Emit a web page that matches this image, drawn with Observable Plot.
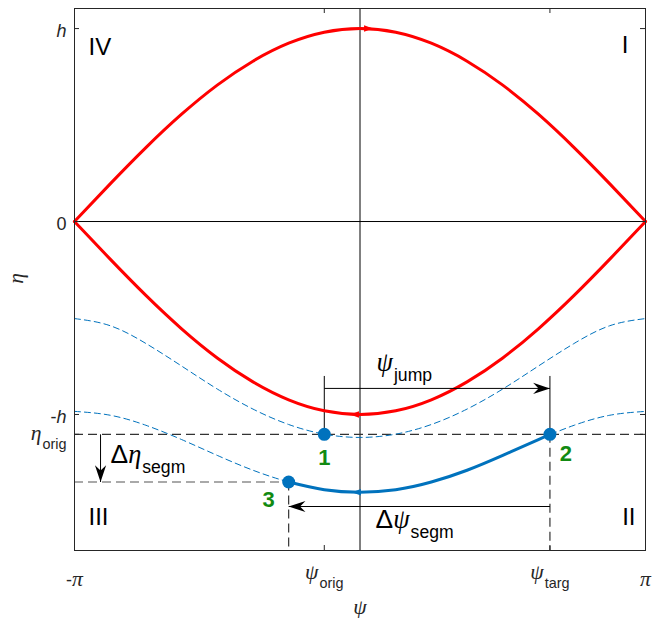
<!DOCTYPE html>
<html>
<head>
<meta charset="utf-8">
<script src="https://cdn.jsdelivr.net/npm/d3@7"></script>
<script src="https://cdn.jsdelivr.net/npm/@observablehq/plot@0.6"></script>
<style>
  html, body { margin: 0; padding: 0; background: #fff; }
  #chart svg { display: block; }
</style>
</head>
<body>
<div id="chart"></div>
<script>
// ---------- data (h = 1) ----------
const psiGrid   = [-3.142, -2.749, -2.356, -1.963, -1.571, -1.178, -0.785, -0.393, 0, 0.393, 0.785, 1.178, 1.571, 1.963, 2.356, 2.749, 3.142];
const redUpper  = [0, 0.195, 0.383, 0.556, 0.707, 0.831, 0.924, 0.981, 1, 0.981, 0.924, 0.831, 0.707, 0.556, 0.383, 0.195, 0];
const redLower  = [0, -0.195, -0.383, -0.556, -0.707, -0.831, -0.924, -0.981, -1, -0.981, -0.924, -0.831, -0.707, -0.556, -0.383, -0.195, 0];
const dashUpper = [-0.503, -0.540, -0.632, -0.749, -0.868, -0.972, -1.052, -1.102, -1.119, -1.102, -1.052, -0.972, -0.868, -0.749, -0.632, -0.540, -0.503];
const dashLower = [-0.984, -1.004, -1.056, -1.130, -1.212, -1.289, -1.350, -1.390, -1.403, -1.390, -1.350, -1.289, -1.212, -1.130, -1.056, -1.004, -0.984];
const segPsi    = [-0.785, -0.393, 0, 0.393, 0.785, 1.178, 1.571, 1.963, 2.09];
const segEta    = [-1.350, -1.390, -1.403, -1.390, -1.350, -1.289, -1.212, -1.130, -1.103];

const psiOrig = -0.393, psiTarg = 2.09, psi3 = -0.785;
const etaOrig = -1.103, eta3 = -1.350;
const etaJump = -0.865, etaJumpTop = -0.803, etaSegm = -1.477, psiDeltaEta = -2.855;

const pointPsi = [psiOrig, psiTarg, psi3];
const pointEta = [etaOrig, etaOrig, eta3];
const pointLabels = ["1", "2", "3"];

const yTickValues = [1, 0, -1, etaOrig];
const yTickLabels = ["*h*", "0", "-*h*", "η_{orig}"];
const xTickValues = [-Math.PI, psiOrig, psiTarg, Math.PI];
const xTickLabels = ["-π", "ψ_{orig}", "ψ_{targ}", "π"];

const quadrants = ["IV", "I", "III", "II"];

const annPsi = [0.182, 0.171, -2.745];
const annEta = [-0.737, -1.551, -1.214];
const annText = ["ψ_{jump}", "Δψ_{segm}", "Δη_{segm}"];

const curveArrowPsi = [0.094, -0.06, -0.04];
const curveArrowEta = [1.0, -1.0, -1.403];
const curveArrowRot = [0, 180, 180];

const yMin = -1.705, yMax = 1.104;

// ---------- tables ----------
const red = psiGrid.flatMap((p, i) => [
  {psi: p, eta: redUpper[i], s: "upper"},
  {psi: p, eta: redLower[i], s: "lower"}
]);
const dashed = psiGrid.flatMap((p, i) => [
  {psi: p, eta: dashUpper[i], s: "upper"},
  {psi: p, eta: dashLower[i], s: "lower"}
]);
const seg = segPsi.map((p, i) => ({psi: p, eta: segEta[i]}));
const pts = pointPsi.map((p, i) => ({psi: p, eta: pointEta[i], label: pointLabels[i]}));
const yTicks = yTickValues.map((v, i) => ({v, label: yTickLabels[i]}));
const xTicks = xTickValues.map((v, i) => ({v, label: xTickLabels[i]}));
const ann = annText.map((t, i) => ({psi: annPsi[i], eta: annEta[i], text: t}));
const curveArrows = curveArrowPsi.map((p, i) => ({psi: p, eta: curveArrowEta[i], rot: curveArrowRot[i], red: i < 2}));

const arrowLines = [
  {x1: psiOrig, y1: etaJump, x2: psiTarg, y2: etaJump},
  {x1: psiTarg, y1: etaSegm, x2: psi3, y2: etaSegm},
  {x1: psiDeltaEta, y1: etaOrig, x2: psiDeltaEta, y2: eta3}
];
const arrowHeads = [
  {x: psiTarg, y: etaJump, rot: 0},
  {x: psi3, y: etaSegm, rot: 180},
  {x: psiDeltaEta, y: eta3, rot: 90}
];

// MATLAB-like filled arrowhead, tip at origin, pointing to +x
const arrowSymbol = {
  draw(ctx, size) {
    const r = Math.sqrt(size / Math.PI);
    const L = 3 * r, W = r;
    ctx.moveTo(0, 0);
    ctx.lineTo(-L, -W);
    ctx.lineTo(-0.68 * L, 0);
    ctx.lineTo(-L, W);
    ctx.closePath();
  }
};
const triSymbol = {
  draw(ctx, size) {
    const r = Math.sqrt(size / Math.PI);
    ctx.moveTo(r * 1.4, 0);
    ctx.lineTo(-r * 1.4, -r);
    ctx.lineTo(-r * 1.4, r);
    ctx.closePath();
  }
};

const blue = "#0072BD";
const green = "#128a12";
const axisCol = "#262626";
const font = "Liberation Sans, Arial, Helvetica, sans-serif";
const W = 663, H = 618, mL = 74, mR = 18, mT = 8, mB = 68;
const pw = W - mL - mR, ph = H - mT - mB;

const chart = Plot.plot({
  width: W, height: H,
  marginLeft: mL, marginRight: mR, marginTop: mT, marginBottom: mB,
  style: {fontFamily: font, background: "white", color: axisCol},
  x: {domain: [-Math.PI, Math.PI], axis: null},
  y: {domain: [yMin, yMax], axis: null},
  marks: [
    Plot.ruleX([0], {stroke: "black", strokeWidth: 1}),
    Plot.ruleY([0], {stroke: "black", strokeWidth: 1}),
    // dashed reference lines
    Plot.ruleY([etaOrig], {stroke: "#333", strokeWidth: 1.2, strokeDasharray: "9,5"}),
    Plot.ruleY([eta3], {x1: -Math.PI, x2: psi3, stroke: "#555", strokeWidth: 1.2, strokeDasharray: "9,5"}),
    Plot.ruleX([psiTarg], {y1: etaOrig, y2: yMin, stroke: "#333", strokeWidth: 1.2, strokeDasharray: "9,5"}),
    Plot.ruleX([psi3], {y1: eta3, y2: yMin, stroke: "#333", strokeWidth: 1.2, strokeDasharray: "9,5"}),
    Plot.ruleX([psiOrig, psiTarg], {y1: etaJumpTop, y2: etaOrig, stroke: "black", strokeWidth: 1}),
    // trajectories
    Plot.line(dashed, {x: "psi", y: "eta", z: "s", stroke: blue, strokeWidth: 1, strokeDasharray: "6,4", curve: "natural"}),
    Plot.line(red, {x: "psi", y: "eta", z: "s", stroke: "red", strokeWidth: 3, curve: "natural"}),
    Plot.line(seg, {x: "psi", y: "eta", stroke: blue, strokeWidth: 3, curve: "natural"}),
    Plot.dot(curveArrows.filter(d => d.red), {x: "psi", y: "eta", rotate: "rot", symbol: triSymbol, r: 3.2, fill: "red", stroke: "none"}),
    Plot.dot(curveArrows.filter(d => !d.red), {x: "psi", y: "eta", rotate: "rot", symbol: triSymbol, r: 3.2, fill: blue, stroke: "none"}),
    // annotation arrows
    Plot.link(arrowLines, {x1: "x1", y1: "y1", x2: "x2", y2: "y2", stroke: "black", strokeWidth: 1}),
    Plot.dot(arrowHeads, {x: "x", y: "y", rotate: "rot", symbol: arrowSymbol, r: 5.6, fill: "black", stroke: "none"}),
    // points
    Plot.dot(pts, {x: "psi", y: "eta", r: 6.5, fill: blue, stroke: "none"}),
    Plot.text(pts.slice(0, 1), {x: "psi", y: "eta", text: "label", fill: green, fontSize: 22, fontWeight: "bold", dy: 24}),
    Plot.text(pts.slice(1, 2), {x: "psi", y: "eta", text: "label", fill: green, fontSize: 22, fontWeight: "bold", dx: 16, dy: 20}),
    Plot.text(pts.slice(2, 3), {x: "psi", y: "eta", text: "label", fill: green, fontSize: 22, fontWeight: "bold", dx: -20, dy: 18}),
    // annotation text
    Plot.text(ann, {x: "psi", y: "eta", text: "text", textAnchor: "start", fontSize: 22, fill: "black"}),
    // quadrant labels
    Plot.text([quadrants[0]], {frameAnchor: "top-left", textAnchor: "start", dx: 14, dy: 29, fontSize: 24, fill: "black"}),
    Plot.text([quadrants[1]], {frameAnchor: "top-right", textAnchor: "end", dx: -17, dy: 27, fontSize: 24, fill: "black"}),
    Plot.text([quadrants[2]], {frameAnchor: "bottom-left", textAnchor: "start", dx: 14, dy: -26, fontSize: 24, fill: "black"}),
    Plot.text([quadrants[3]], {frameAnchor: "bottom-right", textAnchor: "end", dx: -10, dy: -26, fontSize: 24, fill: "black"}),
    // inner ticks (left, right, top, bottom)
    Plot.ruleY(yTickValues, {insetRight: pw - 5, stroke: axisCol, strokeWidth: 1}),
    Plot.ruleY(yTickValues, {insetLeft: pw - 5, stroke: axisCol, strokeWidth: 1}),
    Plot.ruleX(xTickValues, {insetBottom: ph - 5, stroke: axisCol, strokeWidth: 1}),
    Plot.ruleX(xTickValues, {insetTop: ph - 5, stroke: axisCol, strokeWidth: 1}),
    // tick labels
    Plot.text(yTicks.slice(0, 3), {x: -Math.PI, y: "v", text: "label", textAnchor: "end", dx: -8, dy: 3, fontSize: 18, fill: axisCol}),
    Plot.text(yTicks.slice(3), {x: -Math.PI, y: "v", text: "label", textAnchor: "end", dx: -8, dy: 0, fontSize: 18, fill: axisCol}),
    Plot.text([xTicks[0], xTicks[3]], {x: "v", y: yMin, text: "label", dy: 30, fontSize: 18, fill: axisCol}),
    Plot.text([xTicks[1], xTicks[2]], {x: "v", y: yMin, text: "label", dy: 23, fontSize: 18, fill: axisCol}),
    // axis labels
    Plot.text(["ψ"], {x: 0, y: yMin, dy: 58, fontSize: 18, fill: axisCol}),
    Plot.text(["η"], {x: -Math.PI, y: -0.295, dx: -57, rotate: -90, fontSize: 18, fill: axisCol}),
    Plot.frame({stroke: axisCol, strokeWidth: 1})
  ]
});

document.getElementById("chart").appendChild(chart);

// ---------- rich text: Greek in serif italic, *x* italic, _{..} subscript ----------
const NS = "http://www.w3.org/2000/svg";
chart.querySelectorAll("text").forEach(el => {
  const s = el.textContent;
  if (!/[_ψηπ*Δ]/.test(s)) return;
  const fs = parseFloat(getComputedStyle(el).fontSize) || 18;
  el.textContent = "";
  const tokens = s.split(/(_\{[^}]*\}|\*[^*]*\*|[ψηπΔ])/).filter(t => t !== "");
  for (const t of tokens) {
    const ts = document.createElementNS(NS, "tspan");
    if (t.startsWith("_{")) {
      ts.textContent = t.slice(2, -1);
      ts.setAttribute("font-size", (fs * 0.8).toFixed(1));
      ts.setAttribute("dy", (fs * 0.47).toFixed(1));
      ts.setAttribute("dx", "1");
      ts.setAttribute("font-family", font);
    } else if (t.startsWith("*")) {
      ts.textContent = t.slice(1, -1);
      ts.setAttribute("font-style", "italic");
    } else if (t === "Δ") {
      ts.textContent = t;
      ts.setAttribute("font-size", (fs * 1.2).toFixed(1));
    } else if (/[ψηπ]/.test(t)) {
      ts.textContent = t;
      ts.setAttribute("font-family", "Liberation Serif, DejaVu Serif, serif");
      ts.setAttribute("font-style", "italic");
      ts.setAttribute("font-size", (fs * 1.2).toFixed(1));
    } else {
      ts.textContent = t;
    }
    el.appendChild(ts);
  }
});
</script>
</body>
</html>
